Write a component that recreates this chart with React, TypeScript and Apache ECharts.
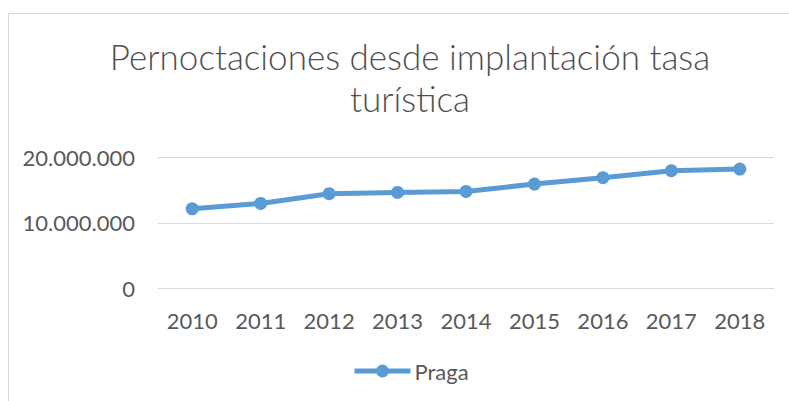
import React, { useEffect, useRef } from "react";
import * as echarts from "echarts";

const years = ["2010", "2011", "2012", "2013", "2014", "2015", "2016", "2017", "2018"];
const praga = [12140000, 12960000, 14440000, 14640000, 14790000, 15920000, 16890000, 17950000, 18200000];
const titleText = "Pernoctaciones desde implantación tasa\nturística";
const seriesName = "Praga";

const FONT = "Lato, 'Open Sans', sans-serif";
const TEXT_COLOR = "#595959";

function fmt(v: number): string {
  const s = Math.round(v).toString();
  return s.replace(/\B(?=(\d{3})+(?!\d))/g, ".");
}

export default function App() {
  const ref = useRef<HTMLDivElement>(null);
  useEffect(() => {
    if (!ref.current) return;
    const chart = echarts.init(ref.current, undefined, { renderer: "svg" });
    chart.setOption({
      animation: false,
      backgroundColor: "#ffffff",
      title: {
        text: titleText,
        left: 405,
        top: 30,
        textAlign: "center",
        textStyle: {
          fontFamily: FONT,
          fontWeight: 300,
          fontSize: 35,
          lineHeight: 42,
          color: "#505050",
        },
      },
      graphic: [
        {
          type: "rect",
          shape: { x: 8.5, y: 13.5, width: 800, height: 400 },
          style: { fill: "none", stroke: "#d9d9d9", lineWidth: 1 },
          silent: true,
        },
      ],
      legend: {
        left: 352,
        top: 360,
        itemWidth: 56,
        itemHeight: 16,
        itemGap: 4,
        padding: 0,
        lineStyle: { width: 5 },
        textStyle: { fontFamily: FONT, fontSize: 22, color: TEXT_COLOR, padding: [0, 0, 0, -1] },
        data: [seriesName],
      },
      grid: { left: 158, right: 15, top: 157.3, bottom: 112.7 },
      xAxis: {
        type: "category",
        data: years,
        boundaryGap: true,
        axisLine: { show: true, lineStyle: { color: "#d9d9d9", width: 1 } },
        axisTick: { show: false },
        axisLabel: { fontFamily: FONT, fontSize: 22, color: TEXT_COLOR, margin: 21 },
      },
      yAxis: {
        type: "value",
        min: 0,
        max: 20000000,
        interval: 10000000,
        axisLine: { show: false },
        axisTick: { show: false },
        splitLine: { lineStyle: { color: "#d9d9d9", width: 1 } },
        axisLabel: {
          fontFamily: FONT,
          fontSize: 22,
          color: TEXT_COLOR,
          margin: 23,
          formatter: (v: number) => fmt(v),
        },
      },
      series: [
        {
          name: seriesName,
          type: "line",
          data: praga,
          symbol: "circle",
          symbolSize: 13,
          lineStyle: { color: "#5b9bd5", width: 5 },
          itemStyle: { color: "#5b9bd5" },
        },
      ],
    });
    return () => chart.dispose();
  }, []);
  return (
    <div
      ref={ref}
      style={{ position: "fixed", left: 0, top: 0, width: 789, height: 401 }}
    />
  );
}
